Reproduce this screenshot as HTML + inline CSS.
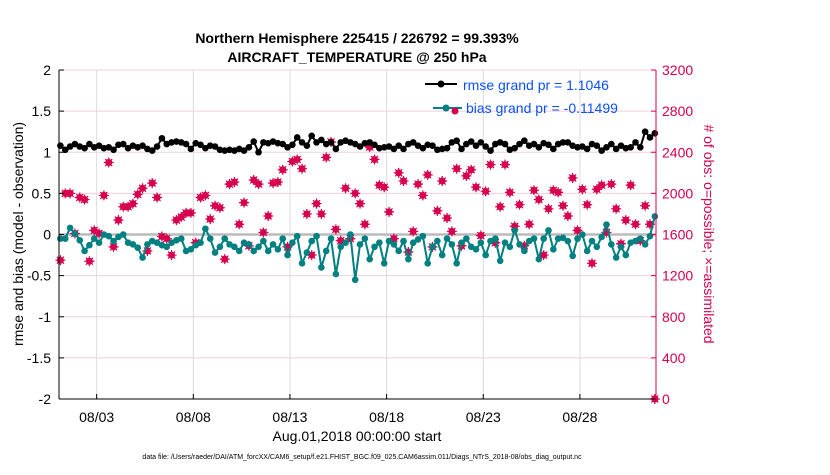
<!DOCTYPE html>
<html><head><meta charset="utf-8"><style>
body{margin:0;background:#fff;width:830px;height:470px;overflow:hidden}
text{font-family:"Liberation Sans",Arial,sans-serif}
</style></head><body>
<svg id="chart" width="830" height="470" xmlns="http://www.w3.org/2000/svg">
<text x="357" y="43" text-anchor="middle" font-size="14" font-weight="bold">Northern Hemisphere 225415 / 226792 = 99.393%</text>
<text x="357" y="62" text-anchor="middle" font-size="14" font-weight="bold">AIRCRAFT_TEMPERATURE @ 250 hPa</text>
<g id="grid"></g>
<g id="marks"></g>
<g id="axes"></g>
<text transform="translate(23,234) rotate(-90)" text-anchor="middle" font-size="14">rmse and bias (model - observation)</text>
<text transform="translate(704,234) rotate(90)" text-anchor="middle" font-size="14" fill="#d6004f"># of obs: o=possible; ×=assimilated</text>
<text x="357" y="441" text-anchor="middle" font-size="14">Aug.01,2018 00:00:00 start</text>
<text x="362" y="459" text-anchor="middle" font-size="7">data file: /Users/raeder/DAI/ATM_forcXX/CAM6_setup/f.e21.FHIST_BGC.f09_025.CAM6assim.011/Diags_NTrS_2018-08/obs_diag_output.nc</text>
<g>
<line x1="425" y1="84" x2="457" y2="84" stroke="#000" stroke-width="2"/>
<circle cx="441" cy="84" r="3.5" fill="#000"/>
<text x="463" y="90" font-size="14" fill="#0a50ff">rmse grand pr = 1.1046</text>
<line x1="433" y1="108" x2="462" y2="108" stroke="#008080" stroke-width="2"/>
<circle cx="446" cy="108" r="3.5" fill="#008080"/>
<circle cx="455" cy="111" r="3.5" fill="#d6004f"/>
<text x="466" y="113" font-size="14" fill="#0a50ff">bias grand pr = -0.11499</text>
</g>
</svg>
<script>
const rmse=[1.08,1.03,1.07,1.10,1.07,1.05,1.10,1.06,1.08,1.05,1.06,1.03,1.09,1.10,1.05,1.08,1.06,1.08,1.04,1.02,1.07,1.17,1.10,1.12,1.13,1.12,1.10,1.04,1.11,1.09,1.05,1.08,1.07,1.03,1.02,1.03,1.02,1.04,1.02,1.06,1.13,1.00,1.12,1.11,1.13,1.11,1.10,1.06,1.09,1.18,1.12,1.08,1.20,1.12,1.15,1.10,1.12,1.04,1.12,1.14,1.12,1.10,1.07,1.11,1.12,1.09,1.05,1.06,1.07,1.04,1.08,1.04,1.10,1.12,1.08,1.05,1.09,1.08,1.03,1.04,1.05,1.12,1.14,1.04,1.10,1.13,1.08,1.12,1.07,1.02,1.10,1.12,1.10,1.03,1.05,1.10,1.14,1.08,1.10,1.06,1.11,1.09,1.04,1.10,1.12,1.12,1.08,1.06,1.07,1.04,1.10,1.08,1.02,1.06,1.10,1.04,1.08,1.05,1.06,1.12,1.06,1.25,1.18,1.23];
const bias=[-0.05,-0.05,0.08,0.01,-0.07,-0.20,-0.13,-0.05,-0.10,0.00,-0.02,-0.08,-0.03,0.00,-0.10,-0.12,-0.16,-0.28,-0.12,-0.08,-0.10,-0.13,-0.15,-0.10,-0.07,-0.05,-0.20,-0.18,-0.13,-0.10,0.07,-0.05,-0.22,-0.15,-0.05,-0.12,-0.15,-0.20,-0.10,-0.12,-0.20,-0.15,-0.08,-0.20,-0.12,-0.18,-0.05,-0.25,-0.10,-0.02,-0.35,-0.22,-0.08,-0.02,-0.40,-0.20,-0.05,-0.48,-0.15,-0.10,0.00,-0.55,-0.12,-0.05,-0.30,-0.15,-0.10,-0.35,-0.08,-0.12,-0.20,-0.08,-0.30,-0.10,-0.06,-0.02,-0.35,-0.15,-0.08,-0.25,-0.05,-0.12,-0.35,-0.10,-0.05,-0.15,-0.18,-0.10,-0.25,-0.08,-0.05,-0.32,-0.10,-0.15,0.05,-0.12,-0.20,-0.08,-0.05,-0.30,-0.05,0.05,-0.18,-0.05,-0.04,-0.08,-0.26,-0.05,0.00,-0.20,-0.08,-0.15,-0.03,0.12,-0.12,-0.28,-0.15,-0.25,-0.10,-0.08,-0.05,-0.12,-0.02,0.22];
const obsCount=[1350,2000,2000,1610,1960,1940,1340,1640,1610,1980,2300,1480,1740,1870,1870,1900,1990,2050,1440,2100,1960,1580,1560,1400,1740,1770,1810,1810,1520,1960,1980,1750,1880,1860,1360,2090,2110,1700,1910,1490,2130,2090,1620,1780,2100,2110,2230,1480,2310,2330,2240,1800,1400,1900,1800,2350,2500,1650,1540,2050,1560,2000,1900,1700,2450,2330,2080,2060,1820,1560,2200,2120,1430,1630,2090,1980,2180,1480,1830,2120,1760,1630,2240,1490,2170,2230,2060,1590,2020,2280,1520,1870,2280,2010,1680,1890,1490,1700,2030,1940,1400,1850,2030,2010,1880,1780,2150,1640,2040,1890,1320,2040,2080,1620,2090,1850,1510,1740,2080,1700,1540,1880,1700,0];
const leftTicks=[-2,-1.5,-1,-0.5,0,0.5,1,1.5,2];
const rightTicks=[0,400,800,1200,1600,2000,2400,2800,3200];
const dateTicks=[2,7,12,17,22,27];
const dateLabels=["08/03","08/08","08/13","08/18","08/23","08/28"];
const NS="http://www.w3.org/2000/svg";
const X0=58,PXD=19.33,L=59,R=656,T=70,B=399;
const xs=d=>X0+d*PXD;
const yl=v=>234.5-v*82.25;
const yr=v=>B-v*(B-T)/3200;
function mk(tag,a,p){const e=document.createElementNS(NS,tag);for(const k in a)e.setAttribute(k,a[k]);p.appendChild(e);return e;}
const grid=document.getElementById('grid'),marks=document.getElementById('marks'),axes=document.getElementById('axes');
leftTicks.forEach(v=>{const g=mk('line',{x1:L,x2:R,y1:yl(v),y2:yl(v),stroke:'#f2cfdc','stroke-width':1},grid);
const t=mk('text',{x:L-8,y:yl(v)+5,'text-anchor':'end','font-size':14},axes);t.textContent=String(v);
mk('line',{x1:L,x2:L+5,y1:yl(v),y2:yl(v),stroke:'#000'},axes);});
dateTicks.forEach((d,i)=>{const g=mk('line',{x1:xs(d),x2:xs(d),y1:T,y2:B,stroke:'#dcdcdc','stroke-width':1},grid);
mk('line',{x1:xs(d),x2:xs(d),y1:B,y2:B-5,stroke:'#000'},axes);
const t=mk('text',{x:xs(d),y:B+23,'text-anchor':'middle','font-size':14},axes);t.textContent=dateLabels[i];});
rightTicks.forEach(v=>{mk('line',{x1:R,x2:R-5,y1:yr(v),y2:yr(v),stroke:'#d6004f'},axes);
const t=mk('text',{x:R+6,y:yr(v)+5,'font-size':14,fill:'#d6004f'},axes);t.textContent=String(v);});
const z=mk('line',{x1:L,x2:R,y1:yl(0),y2:yl(0),stroke:'#bbb','stroke-width':2.5},grid);
mk('line',{x1:L,x2:L,y1:T,y2:B,stroke:'#000'},axes);
mk('line',{x1:L,x2:R,y1:B,y2:B,stroke:'#000'},axes);
mk('line',{x1:R,x2:R,y1:T,y2:B,stroke:'#d6004f'},axes);
const t=i=>0.125+i*0.25;
obsCount.forEach((v,i)=>{const cx=xs(t(i)),cy=yr(v);
const g=mk('g',{},marks);
mk('circle',{cx:cx,cy:cy,r:3.5,fill:'#d6004f'},g);
mk('path',{d:`M${cx-5} ${cy}H${cx+5}M${cx} ${cy-5}V${cy+5}M${cx-3.5} ${cy-3.5}L${cx+3.5} ${cy+3.5}M${cx-3.5} ${cy+3.5}L${cx+3.5} ${cy-3.5}`,stroke:'#d6004f','stroke-width':1.2},g);});
function series(arr,col,name){const p=mk('polyline',{points:arr.map((v,i)=>xs(t(i))+','+yl(v)).join(' '),fill:'none',stroke:col,'stroke-width':2},marks);

arr.forEach((v,i)=>{const c=mk('circle',{cx:xs(t(i)),cy:yl(v),r:3.3,fill:col},marks);});}
series(bias,'#008080','bias');
series(rmse,'#000','rmse');
</script>
</body></html>
